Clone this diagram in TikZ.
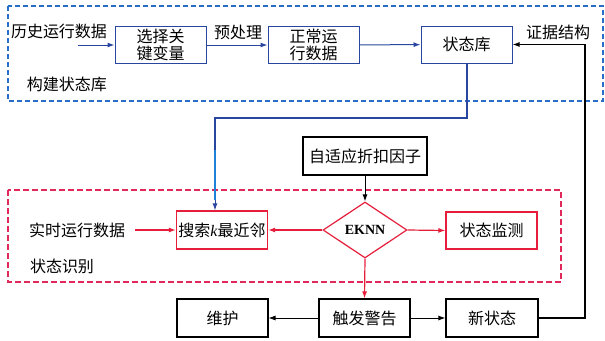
\documentclass[tikz,border=0pt]{standalone}
\usepackage{fontspec}
\setmainfont{Liberation Serif}
\newfontfamily\cjk{Noto Sans CJK SC}
\usetikzlibrary{shapes.geometric,arrows.meta}
\definecolor{boxblue}{RGB}{40,70,160}
\definecolor{dashblue}{RGB}{40,110,200}
\definecolor{lineblue}{RGB}{30,130,215}
\definecolor{myred}{RGB}{230,30,60}
\definecolor{dashred}{RGB}{225,40,90}
\tikzset{
  base/.style={inner sep=0pt, align=center, font=\cjk\fontsize{16}{17}\selectfont},
  bbox/.style={base, draw=boxblue, line width=1pt, minimum width=91pt, minimum height=37pt},
  rbox/.style={base, draw=myred, line width=1.2pt, minimum width=91pt, minimum height=37pt},
  kbox/.style={base, draw=black, line width=1.1pt, minimum width=91pt, minimum height=38pt},
  lbl/.style={base},
  tip/.style={-{Latex[length=7pt,width=5pt]}},
  barrow/.style={tip, draw=boxblue, line width=1pt},
  rarrow/.style={tip, draw=myred, line width=1.2pt},
  karrow/.style={tip, draw=black, line width=1pt},
}
\begin{document}
\begin{tikzpicture}[x=1pt,y=-1pt]
\useasboundingbox (0,0) rectangle (605,340);
% group frames
\draw[dashblue, dashed, line width=1.1pt, dash pattern=on 5pt off 3pt] (8,6) rectangle (603,101);
\draw[dashred, dashed, line width=1.2pt, dash pattern=on 6pt off 3pt] (8,190) rectangle (561,282);
% nodes
\node[lbl] (hist) at (59,31) {历史运行数据};
\coordinate (histS) at (78,45);
\node[bbox] (sel) at (160.5,45) {选择关\\键变量};
\node[lbl] (pre) at (238,32) {预处理};
\node[bbox] (norm) at (313.5,45) {正常运\\行数据};
\node[bbox] (lib) at (466.5,44.5) {状态库};
\node[lbl] (evid) at (558,32) {证据结构};
\node[lbl] (build) at (67,84) {构建状态库};
\node[kbox, minimum width=124pt] (adapt) at (365,156) {自适应折扣因子};
\node[lbl] (real) at (77,230) {实时运行数据};
\coordinate (realE) at (135,230);
\node[rbox, minimum height=38pt] (search) at (222,230) {搜索\textit{\rmfamily k}最近邻};
\node[diamond, draw=myred, line width=1.2pt, minimum width=84pt, minimum height=56pt, inner sep=0pt, font=\bfseries\fontsize{14}{16}\selectfont] (eknn) at (365,230) {EKNN};
\node[rbox] (mon) at (491.5,230.5) {状态监测};
\node[lbl] (statid) at (62,266) {状态识别};
\node[kbox] (alarm) at (364.5,318) {触发警告};
\node[kbox] (maint) at (222.5,318) {维护};
\node[kbox, minimum width=92pt] (newst) at (492,318) {新状态};
% connectors
\draw[barrow] (histS) -- (sel.west |- histS);
\draw[barrow] (sel) -- (norm);
\draw[barrow] (norm) -- (lib);
\coordinate (b1) at (467,118);
\coordinate (b2) at (215,118);
\coordinate (b3) at (215,150);
\coordinate (b4) at (215,200);
\draw[boxblue, line width=1.1pt] (lib.south -| b1) -- (b1) -- (b2) -- (b3);
\draw[lineblue, line width=1.1pt] (b3) -- (b4);
\draw[barrow] (b4) -- (b4 |- search.north);
\draw[karrow] (adapt) -- (eknn.north);
\draw[rarrow] (realE) -- (search.west);
\draw[rarrow] (eknn.west) -- (search.east);
\draw[rarrow] (eknn.east) -- (mon.west);
\draw[rarrow] (eknn.south) -- (alarm.north);
\draw[karrow, line width=0.8pt] (alarm) -- (maint);
\draw[karrow] (alarm) -- (newst);
\coordinate (r1) at (585,318);
\coordinate (r2) at (585,44.5);
\draw[karrow, line width=1.2pt] (newst.east) -- (r1) -- (r2) -- (lib.east);
\end{tikzpicture}
\end{document}
